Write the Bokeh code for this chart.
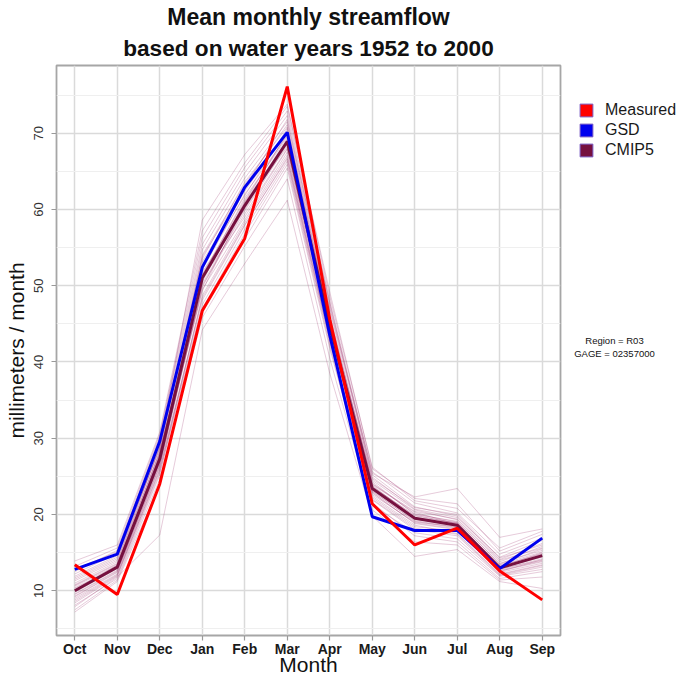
from bokeh.plotting import figure
from bokeh.layouts import row
from bokeh.models import Range1d, FixedTicker, Legend, LegendItem, Label, Title
from bokeh.embed import file_html
from bokeh.resources import INLINE

# ---------------- data ----------------
months = ["Oct", "Nov", "Dec", "Jan", "Feb", "Mar", "Apr", "May", "Jun", "Jul", "Aug", "Sep"]
measured = [13.4, 9.5, 24.0, 46.7, 56.2, 76.1, 45.6, 21.4, 16.0, 18.2, 12.6, 8.8]
gsd = [12.8, 14.8, 29.6, 52.4, 62.9, 70.1, 43.5, 19.7, 17.9, 17.9, 12.9, 16.9]
cmip5_mean = [10.0, 13.1, 27.3, 51.0, 60.5, 68.9, 44.8, 23.4, 19.5, 18.6, 13.0, 14.6]

cmip5_members = [
    [9.2, 12.4, 26.5, 50.2, 59.8, 68.5, 44.1, 23.0, 19.2, 18.3, 12.8, 14.2],
    [11.5, 14.2, 28.9, 53.1, 62.4, 70.2, 46.0, 24.1, 20.1, 19.0, 13.6, 15.3],
    [8.1, 11.6, 25.2, 48.7, 58.3, 67.1, 43.2, 22.4, 18.6, 17.5, 12.2, 13.4],
    [12.8, 15.1, 30.2, 55.4, 64.8, 72.3, 47.5, 25.2, 21.0, 19.8, 14.1, 16.2],
    [10.3, 13.0, 27.8, 51.5, 61.2, 69.8, 45.3, 23.7, 19.8, 18.9, 13.2, 14.9],
    [7.2, 11.2, 23.8, 46.9, 56.1, 65.4, 41.8, 21.5, 17.2, 16.4, 11.6, 12.5],
    [13.9, 16.0, 30.8, 57.2, 66.1, 73.5, 49.2, 26.0, 22.1, 21.4, 15.2, 17.4],
    [9.8, 12.9, 27.0, 49.8, 60.2, 69.1, 44.9, 22.8, 18.9, 18.1, 12.9, 14.0],
    [10.8, 13.6, 28.3, 52.6, 61.8, 70.6, 45.7, 24.5, 20.6, 19.3, 13.8, 15.8],
    [8.6, 12.0, 25.9, 47.5, 57.4, 66.3, 42.6, 21.9, 18.0, 17.2, 12.0, 13.1],
    [11.9, 14.6, 29.4, 54.0, 63.3, 71.1, 46.8, 24.9, 20.7, 19.6, 14.4, 16.6],
    [9.5, 12.6, 26.9, 50.9, 59.0, 67.9, 43.8, 23.3, 19.5, 18.6, 13.1, 14.6],
    [10.1, 13.4, 27.5, 49.3, 60.7, 68.2, 44.4, 22.6, 19.0, 18.4, 12.6, 13.8],
    [12.2, 14.9, 28.6, 53.8, 62.9, 71.8, 47.1, 25.6, 21.5, 20.2, 14.8, 16.9],
    [7.9, 11.8, 17.3, 44.2, 52.9, 61.2, 38.5, 19.8, 14.5, 15.4, 11.2, 10.3],
    [11.0, 13.8, 29.0, 58.6, 67.2, 73.8, 48.6, 26.2, 21.8, 20.8, 15.6, 17.8],
    [9.0, 12.2, 26.2, 48.1, 57.9, 66.8, 43.0, 22.2, 18.4, 17.8, 12.4, 13.6],
    [10.6, 13.3, 27.6, 51.2, 61.5, 69.4, 45.0, 23.9, 20.3, 18.7, 13.4, 15.1],
    [13.2, 15.6, 30.5, 56.3, 65.5, 72.9, 48.0, 25.4, 22.3, 23.4, 17.0, 18.1],
    [8.4, 11.9, 25.5, 47.0, 56.8, 65.9, 42.2, 21.2, 17.6, 16.8, 11.9, 12.8],
    [10.4, 13.1, 27.3, 51.8, 60.0, 68.7, 44.6, 23.5, 19.4, 18.5, 13.0, 14.4],
    [11.3, 14.0, 28.1, 50.5, 61.0, 70.0, 45.6, 24.3, 20.0, 19.1, 13.5, 15.5],
    [9.6, 12.7, 26.7, 49.5, 58.6, 67.5, 43.5, 22.9, 18.8, 18.0, 12.7, 13.9],
    [12.5, 15.3, 29.8, 54.7, 64.1, 71.5, 47.8, 24.7, 20.9, 20.0, 14.3, 16.0],
    [7.5, 11.4, 24.6, 45.8, 55.2, 64.0, 40.5, 20.6, 16.4, 16.0, 11.4, 11.8],
    [10.0, 13.2, 27.9, 52.1, 62.0, 69.6, 45.4, 23.6, 19.9, 18.8, 13.3, 14.8],
    [11.7, 14.4, 28.7, 53.5, 63.6, 70.8, 46.3, 24.0, 20.4, 19.4, 14.0, 15.6],
    [9.3, 12.5, 26.4, 50.0, 59.4, 68.0, 44.0, 23.1, 19.1, 18.2, 12.5, 14.1],
    [8.8, 12.1, 25.8, 48.4, 58.0, 66.6, 42.9, 22.0, 18.2, 17.4, 12.1, 13.3],
    [10.7, 13.5, 28.2, 51.4, 60.9, 69.2, 44.7, 23.8, 19.6, 18.9, 13.1, 15.0],
]

y_ticks = [10, 20, 30, 40, 50, 60, 70]
y_minor = [5, 15, 25, 35, 45, 55, 65, 75]
series_labels = ["Measured", "GSD", "CMIP5"]
info_lines = ["Region = R03", "GAGE = 02357000"]

# ---------------- style ----------------
FONT = "Liberation Sans"
RED = "#ff0000"
BLUE = "#0000ee"
MAROON = "#76103f"

x = list(range(len(months)))

p = figure(width=564, height=678, output_backend="svg", toolbar_location=None,
           x_range=Range1d(-0.43, 11.43), y_range=Range1d(4.13, 78.87),
           min_border_left=56, min_border_right=4, min_border_top=65,
           min_border_bottom=40, background_fill_color="white",
           border_fill_color="white")

t2 = Title(text="based on water years 1952 to 2000", align="center",
           text_font=FONT, text_font_size="22.6px", text_font_style="bold",
           text_color="#111111", standoff=9)
t1 = Title(text="Mean monthly streamflow", align="center",
           text_font=FONT, text_font_size="23px", text_font_style="bold",
           text_color="#111111", standoff=0)
p.add_layout(t2, "above")
p.add_layout(t1, "above")

# grid & frame
p.outline_line_color = "#a6a6a6"
p.outline_line_width = 1.8
p.xgrid.grid_line_color = "#dadada"
p.xgrid.grid_line_width = 1.5
p.ygrid.grid_line_color = "#dadada"
p.ygrid.grid_line_width = 1.5
p.ygrid.minor_grid_line_color = "#efefef"
p.ygrid.minor_grid_line_width = 1

# axes
p.xaxis.ticker = FixedTicker(ticks=x)
p.xaxis.major_label_overrides = {i: m for i, m in enumerate(months)}
p.yaxis.ticker = FixedTicker(ticks=y_ticks, minor_ticks=y_minor)
for ax in (p.xaxis[0], p.yaxis[0]):
    ax.axis_line_color = None
    ax.major_tick_line_color = "#999999"
    ax.major_tick_line_width = 1.2
    ax.major_tick_out = 5
    ax.major_tick_in = 0
    ax.minor_tick_out = 0
    ax.minor_tick_in = 0
    ax.axis_label_text_font = FONT
    ax.axis_label_text_font_size = "21px"
    ax.axis_label_text_font_style = "normal"
    ax.axis_label_text_color = "#111111"
    ax.major_label_text_font = FONT

p.xaxis.axis_label = "Month"
p.xaxis.major_label_text_font_size = "14px"
p.xaxis.major_label_text_font_style = "bold"
p.xaxis.major_label_text_color = "#1a1a1a"
p.xaxis.major_label_standoff = 0
p.xaxis.axis_label_standoff = -7

p.yaxis.axis_label = "millimeters / month"
p.yaxis.major_label_orientation = "vertical"
p.yaxis.major_label_text_font_size = "13px"
p.yaxis.major_label_text_color = "#333333"
p.yaxis.major_label_standoff = 8
p.yaxis.axis_label_standoff = 4

# ensemble members
for m in cmip5_members:
    p.line(x, m, line_color="#962463", line_alpha=0.24, line_width=1)

p.line(x, cmip5_mean, line_color=MAROON, line_width=3)
p.line(x, gsd, line_color=BLUE, line_width=3)
p.line(x, measured, line_color=RED, line_width=3)

# ---------------- side panel: legend + info ----------------
side = figure(width=118, height=678, output_backend="svg", toolbar_location=None,
              x_range=Range1d(0, 1), y_range=Range1d(0, 100),
              x_axis_location=None, y_axis_location=None,
              min_border=0, outline_line_color=None,
              background_fill_color="white", border_fill_color="white")
side.grid.visible = False

key_colors = [RED, BLUE, MAROON]
key_series = [measured, gsd, cmip5_mean]
items = []
for lab, col, ser in zip(series_labels, key_colors, key_series):
    r = side.vbar(x=x, top=ser, width=0.5, fill_color=col, line_color="#7b5cc4",
                  line_width=1, visible=False)
    items.append(LegendItem(label=lab, renderers=[r]))

legend = Legend(items=items, location=(14, 476), orientation="vertical",
                padding=0, margin=0, spacing=2, glyph_width=16, glyph_height=16,
                label_height=16, label_standoff=11, border_line_color=None,
                background_fill_alpha=0, inactive_fill_alpha=0,
                label_text_font=FONT, label_text_font_size="16px",
                label_text_color="#1a1a1a", label_text_baseline="middle")
side.add_layout(legend, "center")

for i, txt in enumerate(info_lines):
    side.add_layout(Label(x=50, y=295 - 13 * i, x_units="screen", y_units="screen",
                          text=txt, text_align="center", text_baseline="middle",
                          text_font=FONT, text_font_size="9.5px",
                          text_color="#111111"))

layout = row(p, side, spacing=0)
open("out.html", "w").write(file_html(layout, INLINE))
